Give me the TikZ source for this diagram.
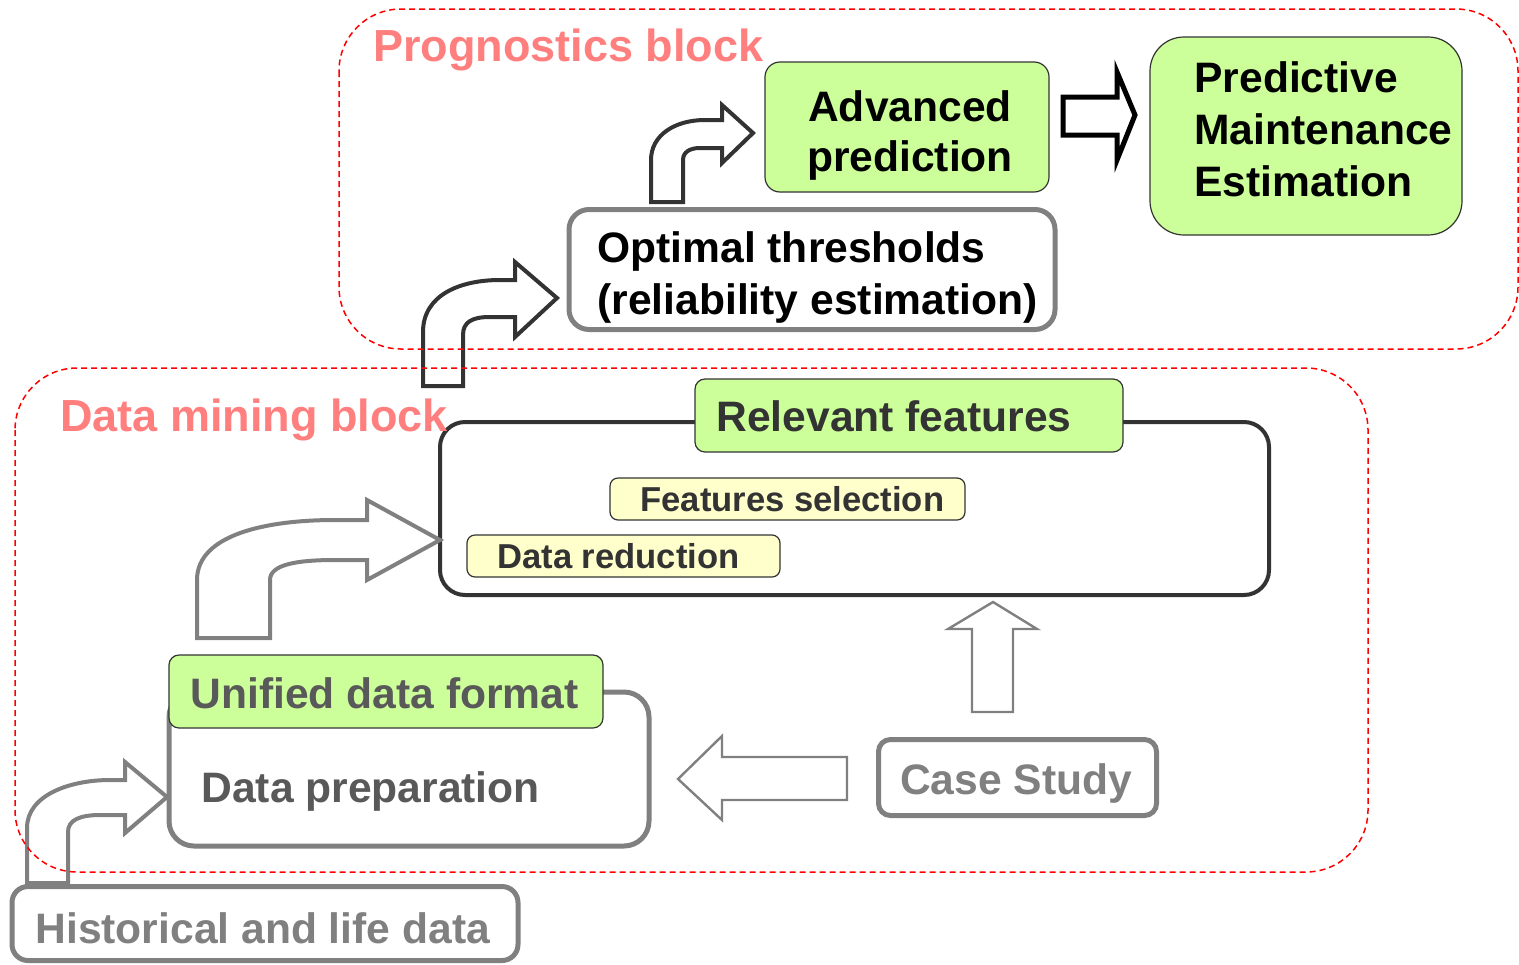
\documentclass[tikz,border=0pt]{standalone}
\usepackage{fontspec}
\setmainfont{Liberation Sans}
\definecolor{leaf}{HTML}{CCFF99}
\definecolor{cream}{HTML}{FFFFCC}
\definecolor{titlepink}{HTML}{FF7F7F}
\definecolor{dashred}{HTML}{FF0000}
\definecolor{midgray}{HTML}{808080}
\definecolor{inkgray}{HTML}{333333}
\definecolor{textgray}{HTML}{595959}
\tikzset{
  region/.style={draw=dashred, line width=0.75pt, dash pattern=on 3pt off 2pt, rounded corners=31pt},
  txt/.style={inner sep=0pt, font=\bfseries\fontsize{21.3pt}{26pt}\selectfont},
  smalltxt/.style={inner sep=0pt, font=\bfseries\fontsize{17.3pt}{20pt}\selectfont, text=inkgray},
  titletxt/.style={inner sep=0pt, font=\bfseries\fontsize{22.5pt}{27pt}\selectfont, text=titlepink},
  greenbox/.style={draw=inkgray, line width=0.6pt, fill=leaf, rounded corners=6pt, inner sep=0pt},
  creambox/.style={draw=inkgray, line width=0.6pt, fill=cream, rounded corners=4pt, inner sep=0pt},
  graybox/.style={draw=midgray, line width=2.5pt, fill=white, rounded corners=10pt, inner sep=0pt},
  darkbox/.style={draw=inkgray, line width=2pt, fill=white, rounded corners=12.5pt, inner sep=0pt},
  bentgray/.style={draw=midgray, line width=2pt, fill=white, line join=miter},
  bentdark/.style={draw=inkgray, line width=2pt, fill=white, line join=miter},
  thinblock/.style={draw=midgray, line width=1.2pt, fill=white, line join=miter},
  boldblock/.style={draw=black, line width=2.5pt, fill=white, line join=miter},
}
\begin{document}
\begin{tikzpicture}[x=0.5pt, y=-0.5pt]
\useasboundingbox (0,0) rectangle (1519,964);

% ---------- prognostics part ----------
\node[greenbox, rounded corners=7.5pt, minimum width=142pt, minimum height=65pt] (adv) at (907,127) {};
\node[txt, anchor=base] (advA) at (910,121) {Advanced};
\node[txt, anchor=base] (advB) at (910,171) {prediction};

\node[greenbox, rounded corners=17pt, minimum width=156pt, minimum height=99pt] (pme) at (1306,136) {};
\node[txt, anchor=base west] (pmeA) at (1194,92) {Predictive};
\node[txt, anchor=base west] (pmeB) at (1194,144) {Maintenance};
\node[txt, anchor=base west] (pmeC) at (1194,196) {Estimation};

\node[graybox, minimum width=243pt, minimum height=60pt] (opt) at (812,269.5) {};
\node[txt, anchor=base west] (optA) at (597,262) {Optimal thresholds};
\node[txt, anchor=base west] (optB) at (597,314) {(reliability estimation)};

% ---------- data mining part ----------
\node[darkbox, minimum width=414.5pt, minimum height=86.5pt] (rel) at (854.5,508.5) {};
\node[greenbox, rounded corners=5pt, minimum width=214pt, minimum height=36.5pt] (relf) at (909,415.5) {};
\node[txt, anchor=base west, text=inkgray] (relft) at (716,431) {Relevant features};

\node[creambox, minimum width=177.5pt, minimum height=21pt] (fsel) at (787.5,499) {};
\node[smalltxt, anchor=base west] (fselt) at (640,511) {Features selection};
\node[creambox, minimum width=156.5pt, minimum height=21pt] (dred) at (623.5,556) {};
\node[smalltxt, anchor=base west] (dredt) at (497,568) {Data reduction};

\node[graybox, rounded corners=12.5pt, minimum width=240pt, minimum height=77pt] (prep) at (409,769) {};
\node[greenbox, rounded corners=5pt, minimum width=217pt, minimum height=36.5pt] (udf) at (386,691.5) {};
\node[txt, anchor=base west, text=textgray] (udft) at (190,708) {Unified data format};
\node[txt, anchor=base west, text=textgray] (prept) at (201,802) {Data preparation};

\node[graybox, rounded corners=6pt, minimum width=139pt, minimum height=38pt] (cs) at (1017.5,777.5) {};
\node[txt, anchor=base, text=midgray] (cst) at (1016,794) {Case Study};

\node[graybox, rounded corners=8pt, minimum width=253pt, minimum height=37pt] (hist) at (265,923.5) {};
\node[txt, anchor=base west, text=midgray] (histt) at (35,943) {Historical and life data};

% ---------- block arrows ----------
% historical data -> data preparation
\draw[bentgray] (27,883) -- (27,828) .. controls (27,795) and (70,780) .. (110,780) -- (125,780)
  -- (125,762) -- (167,797) -- (125,833) -- (125,815) -- (100,815)
  .. controls (80,815) and (68,820) .. (68,832) -- (68,883) -- cycle;
% unified data -> relevant features
\draw[bentgray] (197,638) -- (197,580) .. controls (197,535) and (265,520) .. (335,520) -- (367,520)
  -- (367,500) -- (440,540) -- (367,580) -- (367,560) -- (335,560)
  .. controls (295,560) and (270,565) .. (270,580) -- (270,638) -- cycle;
% case study -> relevant features
\draw[thinblock] (972,712) -- (972,629) -- (948,629) -- (993,602) -- (1037,629) -- (1013,629) -- (1013,712) -- cycle;
% case study -> data preparation
\draw[thinblock] (847,757) -- (722,757) -- (722,736) -- (678,779) -- (722,820) -- (722,800) -- (847,800) -- cycle;
% data mining -> optimal thresholds
\draw[bentdark] (423,386) -- (423,332) .. controls (423,295) and (460,280) .. (500,280) -- (515,280)
  -- (515,262) -- (557,298) -- (515,337) -- (515,317) -- (490,317)
  .. controls (472,317) and (463,322) .. (463,335) -- (463,386) -- cycle;
% optimal thresholds -> advanced prediction
\draw[bentdark] (651,202) -- (651,160) .. controls (651,135) and (675,120) .. (705,120) -- (722,120)
  -- (722,105) -- (753,133) -- (722,163) -- (722,148) -- (700,148)
  .. controls (690,148) and (683,152) .. (683,160) -- (683,202) -- cycle;
% advanced prediction -> maintenance estimation
\draw[boldblock] (1063,97) -- (1117,97) -- (1117,72) -- (1135,115) -- (1117,160) -- (1117,135) -- (1063,135) -- cycle;

% ---------- dashed block outlines and titles ----------
\draw[region] (339,9) rectangle (1518,349);
\draw[region] (15,368) rectangle (1368,872);
\node[titletxt, anchor=base west] (progt) at (373,61) {Prognostics block};
\node[titletxt, anchor=base west] (dmt) at (60,431) {Data mining block};
\end{tikzpicture}
\end{document}
